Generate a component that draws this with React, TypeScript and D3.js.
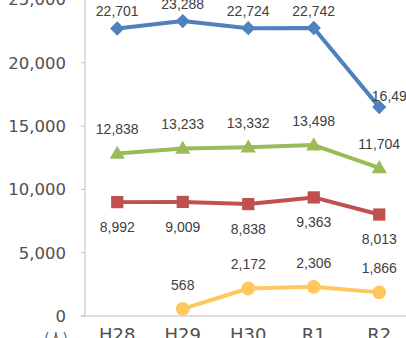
import React from "react";
import * as d3 from "d3";

const categories = ["H28", "H29", "H30", "R1", "R2"];
const blueValues: (number | null)[] = [22701, 23288, 22724, 22742, 16494];
const greenValues: (number | null)[] = [12838, 13233, 13332, 13498, 11704];
const redValues: (number | null)[] = [8992, 9009, 8838, 9363, 8013];
const yellowValues: (number | null)[] = [null, 568, 2172, 2306, 1866];
const yTicks = [0, 5000, 10000, 15000, 20000, 25000];
const unitLabel = "(人)";

const W = 406;
const H = 338;

type Series = {
  values: (number | null)[];
  color: string;
  marker: "diamond" | "square" | "triangle" | "circle";
  labelDy: number;
  width: number;
};

const series: Series[] = [
  { values: blueValues, color: "#4F81BD", marker: "diamond", labelDy: -17, width: 4 },
  { values: greenValues, color: "#9BBB59", marker: "triangle", labelDy: -24, width: 4 },
  { values: redValues, color: "#C0504D", marker: "square", labelDy: 25, width: 4 },
  { values: yellowValues, color: "#FFC85E", marker: "circle", labelDy: -24, width: 4 },
];

const fmt = d3.format(",");

export default function App() {
  const x = d3.scaleBand<string>().domain(categories).range([84.5, 412]).padding(0);
  const cx = (c: string) => (x(c) as number) + x.bandwidth() / 2;
  const y = d3.scaleLinear().domain([0, 25000]).range([316, -0.6]);
  const axisColor = "#BFBFBF";
  const labelFont = "'Liberation Sans', Arial, sans-serif";
  const tickFont = "'DejaVu Sans', sans-serif";

  const sym = (m: Series["marker"]) => {
    if (m === "diamond") return d3.symbol().type(d3.symbolDiamond2).size(130)();
    if (m === "square") return d3.symbol().type(d3.symbolSquare).size(150)();
    if (m === "triangle") return d3.symbol().type(d3.symbolTriangle).size(100)();
    return d3.symbol().type(d3.symbolCircle).size(150)();
  };

  return (
    <svg
      width={W}
      height={H}
      style={{ position: "fixed", left: 0, top: 0, background: "#fff" }}
    >
      {/* axes */}
      <line x1={85} x2={85} y1={-2} y2={y(0)} stroke={axisColor} strokeWidth={1} />
      <line x1={81} x2={W} y1={y(0)} y2={y(0)} stroke={axisColor} strokeWidth={1} />
      {yTicks.map((t) => (
        <g key={t}>
          <line x1={81} x2={85} y1={y(t)} y2={y(t)} stroke={axisColor} strokeWidth={1} />
          <text
            x={66}
            y={y(t)}
            dy="0.36em"
            textAnchor="end"
            fontFamily={tickFont}
            fontSize={16.5}
            fill="#505050"
          >
            {fmt(t)}
          </text>
        </g>
      ))}
      {categories.map((c) => (
        <text
          key={c}
          x={cx(c)}
          y={341}
          textAnchor="middle"
          fontFamily={tickFont}
          fontSize={18}
          fill="#505050"
        >
          {c}
        </text>
      ))}
      <text
        x={56}
        y={343}
        textAnchor="middle"
        fontFamily="'Noto Sans CJK JP', sans-serif"
        fontSize={14}
        fill="#505050"
      >
        {unitLabel}
      </text>

      {series.map((s, si) => {
        const pts = categories
          .map((c, i) => ({ c, v: s.values[i], i }))
          .filter((p) => p.v !== null) as { c: string; v: number; i: number }[];
        const line = d3
          .line<{ c: string; v: number }>()
          .x((p) => cx(p.c))
          .y((p) => y(p.v));
        return (
          <g key={si}>
            <path
              d={line(pts) || ""}
              fill="none"
              stroke={s.color}
              strokeWidth={s.width}
              strokeLinejoin="round"
            />
            {pts.map((p) => (
              <path
                key={p.c}
                d={sym(s.marker) || ""}
                transform={`translate(${cx(p.c)},${y(p.v) + (s.marker === "triangle" ? 1 : 0)})`}
                fill={s.color}
              />
            ))}
            {pts.map((p) => {
              const isLastBlue = s.marker === "diamond" && p.i === categories.length - 1;
              return (
                <text
                  key={"l" + p.c}
                  x={cx(p.c) + (isLastBlue ? 14 : 0)}
                  y={y(p.v) + (isLastBlue ? -11 : s.labelDy)}
                  dy="0.35em"
                  textAnchor="middle"
                  fontFamily={labelFont}
                  fontSize={14}
                  fill="#404040"
                >
                  {fmt(p.v)}
                </text>
              );
            })}
          </g>
        );
      })}
    </svg>
  );
}
